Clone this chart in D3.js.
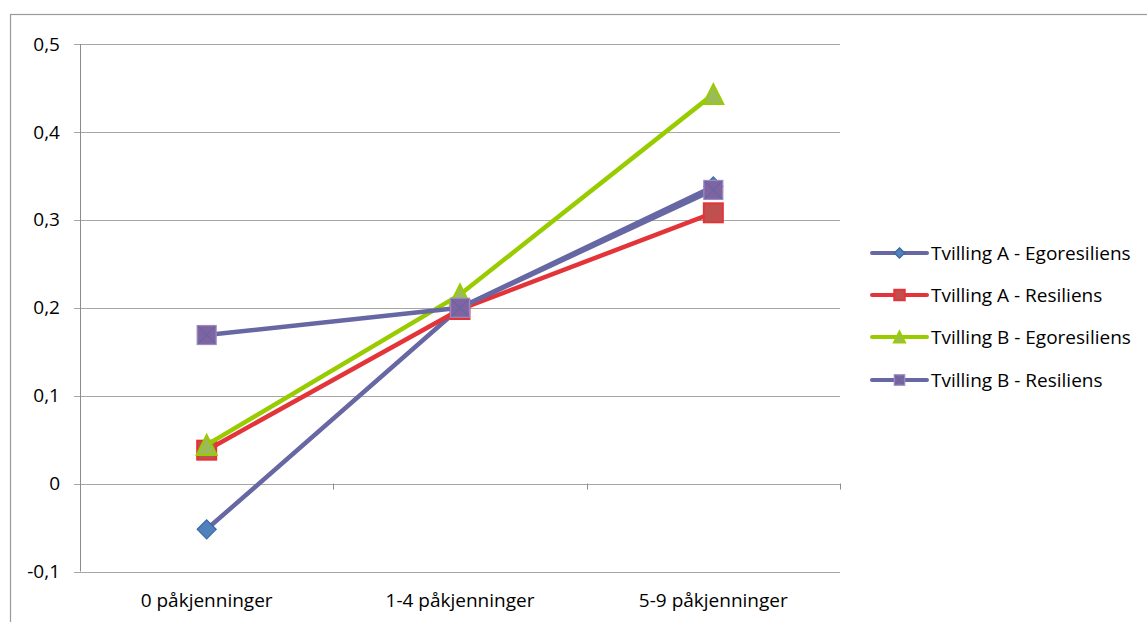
<!DOCTYPE html>
<html><head><meta charset="utf-8">
<script src="https://cdn.jsdelivr.net/npm/d3@7"></script>
<style>body{margin:0;background:#fff}svg{display:block}text{font-family:"Open Sans",Lato,sans-serif;fill:#000}</style>
</head><body>
<svg id="c" width="1147" height="622"></svg>
<script>
const categories = ["0 påkjenninger", "1-4 påkjenninger", "5-9 påkjenninger"];
const seriesNames = ["Tvilling A - Egoresiliens", "Tvilling A - Resiliens", "Tvilling B - Egoresiliens", "Tvilling B - Resiliens"];
const tvillingAEgo = [-0.052, 0.2, 0.338];
const tvillingARes = [0.038, 0.198, 0.308];
const tvillingBEgo = [0.044, 0.215, 0.443];
const tvillingBRes = [0.169, 0.2, 0.334];
const yTicks = [-0.1, 0, 0.1, 0.2, 0.3, 0.4, 0.5];

const series = [
  {name: seriesNames[0], values: tvillingAEgo, line: "#6667A3", marker: "diamond", fill: "#4F81BD", stroke: "#3D66A0"},
  {name: seriesNames[1], values: tvillingARes, line: "#E3343A", marker: "square", fill: "#C0504D", stroke: "#E3343A"},
  {name: seriesNames[2], values: tvillingBEgo, line: "#99CC00", marker: "triangle", fill: "#9BBB59", stroke: "#99CC00"},
  {name: seriesNames[3], values: tvillingBRes, line: "#6667A3", marker: "squarex", fill: "#8064A2", stroke: "#9C8BC0"}
];

const FS = 19;
const svg = d3.select("#c");
const L = 80, R = 840, T = 44, B = 571.5;
const x = d3.scaleBand().domain(categories).range([L, R]);
const y = d3.scaleLinear().domain([-0.1, 0.5]).range([B, T]);

// outer chart border
svg.append("rect").attr("x", 10.5).attr("y", 14.5).attr("width", 1200).attr("height", 700)
  .attr("fill", "none").attr("stroke", "#9a9a9a").attr("stroke-width", 1.2);

// gridlines
svg.append("g").selectAll("line").data(yTicks).join("line")
  .attr("x1", L - 6).attr("x2", R).attr("y1", d => Math.round(y(d)) + 0.5).attr("y2", d => Math.round(y(d)) + 0.5)
  .attr("stroke", "#a6a6a6").attr("stroke-width", 1);
// y axis line
svg.append("line").attr("x1", L + 0.5).attr("x2", L + 0.5).attr("y1", y(0.5)).attr("y2", y(-0.1))
  .attr("stroke", "#8c8c8c");
// y tick labels
svg.append("g").selectAll("text").data(yTicks).join("text")
  .attr("x", 60).attr("y", d => y(d)).attr("dy", "0.35em").attr("text-anchor", "end")
  .attr("font-size", FS).text(d => d3.format(".1f")(d).replace(".", ",").replace(/^0,0$/, "0").replace("−", "-"));
// x axis ticks at category boundaries
const bounds = categories.map(c => x(c)).concat([R]);
svg.append("g").selectAll("line").data(bounds).join("line")
  .attr("x1", d => Math.round(d) + 0.5).attr("x2", d => Math.round(d) + 0.5)
  .attr("y1", y(0)).attr("y2", y(0) + 6).attr("stroke", "#8c8c8c");
// category labels
svg.append("g").selectAll("text").data(categories).join("text")
  .attr("x", d => x(d) + x.bandwidth() / 2).attr("y", 600).attr("dy", "0.35em").attr("text-anchor", "middle")
  .attr("font-size", FS).text(d => d);

const cx = (i) => x(categories[i]) + x.bandwidth() / 2;
const lineGen = d3.line().x((d, i) => cx(i)).y(d => y(d));

function drawMarker(g, type, px, py, s, scale) {
  const k = scale || 1;
  if (type === "diamond") {
    const h = 9.5 * k;
    g.append("path").attr("d", `M${px},${py - h}L${px + h},${py}L${px},${py + h}L${px - h},${py}Z`)
      .attr("fill", s.fill).attr("stroke", s.stroke).attr("stroke-width", 1.2);
  } else if (type === "square" || type === "squarex") {
    const h = 9.5 * k;
    g.append("rect").attr("x", px - h).attr("y", py - h).attr("width", 2 * h).attr("height", 2 * h)
      .attr("fill", s.fill).attr("stroke", s.stroke).attr("stroke-width", type === "square" ? 2 : 1.2);
    if (type === "squarex") {
      g.append("path").attr("d", `M${px - h + 1},${py - h + 1}L${px + h - 1},${py + h - 1}M${px + h - 1},${py - h + 1}L${px - h + 1},${py + h - 1}`)
        .attr("stroke", "#6667A3").attr("stroke-width", 1.5);
    }
  } else if (type === "triangle") {
    const h = 10 * k;
    g.append("path").attr("d", `M${px},${py - h}L${px + h},${py + h}L${px - h},${py + h}Z`)
      .attr("fill", s.fill).attr("stroke", s.stroke).attr("stroke-width", 2);
  }
}

series.forEach(s => {
  const g = svg.append("g");
  g.append("path").datum(s.values).attr("d", lineGen).attr("fill", "none")
    .attr("stroke", s.line).attr("stroke-width", 4.5).attr("stroke-linejoin", "round");
  s.values.forEach((v, i) => drawMarker(g, s.marker, cx(i), y(v), s));
});

// legend
const legY = [253, 295, 337, 380];
series.forEach((s, i) => {
  const g = svg.append("g");
  g.append("line").attr("x1", 872).attr("x2", 927).attr("y1", legY[i]).attr("y2", legY[i])
    .attr("stroke", s.line).attr("stroke-width", 4).attr("stroke-linecap", "round");
  drawMarker(g, s.marker, 899.5, legY[i], s, 0.55);
  g.append("text").attr("x", 931).attr("y", legY[i]).attr("dy", "0.35em").attr("font-size", FS).text(s.name);
});
</script>
</body></html>
